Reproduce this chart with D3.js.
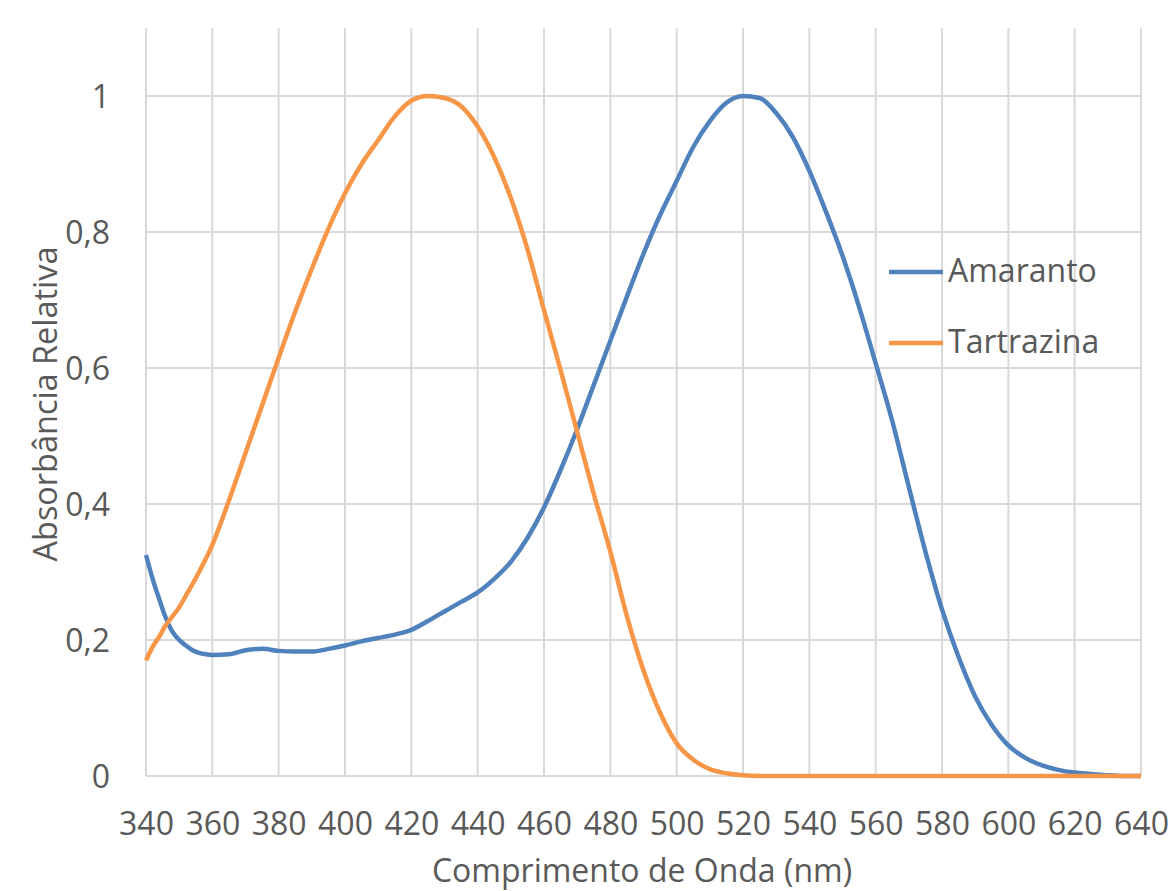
<!DOCTYPE html>
<html lang="pt">
<head>
<meta charset="UTF-8">
<script src="https://d3js.org/d3.v7.min.js"></script>
<title>Absorbância</title>
<style>
  body { margin: 0; background: #fff; }
  text { font-family: "Open Sans", sans-serif; fill: #595959; }
  .grid line { stroke: #d9d9d9; stroke-width: 2; }
  .axis path, .axis line { display: none; }
</style>
</head>
<body>
<div id="chart"></div>
<script>
// comprimentos de onda (nm)
var wavelengths = [340, 342, 344, 346, 348, 350, 352, 354, 356, 358, 360,
  365, 370, 375, 380, 385, 390, 395, 400, 405, 410, 415, 420, 425, 430, 435,
  440, 445, 450, 455, 460, 465, 470, 475, 480, 485, 490, 495, 500, 505, 510,
  515, 520, 525, 530, 535, 540, 545, 550, 555, 560, 565, 570, 575, 580, 585,
  590, 595, 600, 605, 610, 615, 620, 625, 630, 635, 640];

var amaranto = [0.325, 0.29, 0.26, 0.232, 0.212, 0.2, 0.192, 0.185, 0.181, 0.179, 0.178,
  0.179, 0.185, 0.187, 0.184, 0.183, 0.183, 0.187, 0.192, 0.198, 0.203, 0.208, 0.215, 0.228, 0.242, 0.256,
  0.27, 0.29, 0.315, 0.35, 0.395, 0.45, 0.51, 0.575, 0.64, 0.705, 0.768, 0.825, 0.875, 0.925, 0.963,
  0.99, 1.0, 0.997, 0.975, 0.94, 0.89, 0.83, 0.765, 0.69, 0.607, 0.522, 0.425, 0.33, 0.245, 0.175,
  0.117, 0.075, 0.045, 0.027, 0.016, 0.009, 0.005, 0.003, 0.001, 0, 0];

var tartrazina = [0.17, 0.19, 0.205, 0.222, 0.235, 0.248, 0.265, 0.282, 0.3, 0.319, 0.34,
  0.405, 0.475, 0.545, 0.615, 0.683, 0.746, 0.805, 0.857, 0.9, 0.935, 0.97, 0.993, 1.0, 0.997, 0.985,
  0.955, 0.91, 0.85, 0.775, 0.685, 0.597, 0.506, 0.415, 0.33, 0.235, 0.155, 0.093, 0.048, 0.024, 0.01,
  0.004, 0.001, 0, 0, 0, 0, 0, 0, 0, 0, 0, 0, 0, 0, 0,
  0, 0, 0, 0, 0, 0, 0, 0, 0, 0, 0];

var seriesNames = ["Amaranto", "Tartrazina"];
var seriesColors = ["#4f81bd", "#f79646"];
var xTicks = [340, 360, 380, 400, 420, 440, 460, 480, 500, 520, 540, 560, 580, 600, 620, 640];
var yTicks = [0, 0.2, 0.4, 0.6, 0.8, 1];
var yTickLabels = ["0", "0,2", "0,4", "0,6", "0,8", "1"];

var width = 1171, height = 891;
var margin = { left: 146, right: 30, top: 28, bottom: 115 };

var svg = d3.select("#chart").append("svg")
  .attr("width", width)
  .attr("height", height);

var x = d3.scaleLinear().domain([340, 640]).range([margin.left, width - margin.right]);
var y = d3.scaleLinear().domain([0, 1.1]).range([height - margin.bottom, margin.top]);

// grelha
svg.append("g").attr("class", "grid")
  .selectAll("line").data(xTicks).enter().append("line")
    .attr("x1", function(d) { return x(d); })
    .attr("x2", function(d) { return x(d); })
    .attr("y1", y(1.1))
    .attr("y2", y(0));

svg.append("g").attr("class", "grid")
  .selectAll("line").data(yTicks).enter().append("line")
    .attr("x1", x(340))
    .attr("x2", x(640))
    .attr("y1", function(d) { return y(d); })
    .attr("y2", function(d) { return y(d); });

// eixos
var xAxis = svg.append("g").attr("class", "axis")
  .attr("transform", "translate(0," + y(0) + ")")
  .call(d3.axisBottom(x).tickValues(xTicks).tickFormat(d3.format("d")));
xAxis.selectAll("text")
  .attr("y", 59).attr("dy", null)
  .style("font-size", "32px");

var yAxis = svg.append("g").attr("class", "axis")
  .attr("transform", "translate(" + x(340) + ",0)")
  .call(d3.axisLeft(y).tickValues(yTicks).tickFormat(function(d, i) { return yTickLabels[i]; }));
yAxis.selectAll("text")
  .attr("x", -36).attr("dy", "0.36em")
  .style("font-size", "32px");

// linhas
var line = d3.line()
  .x(function(d) { return x(d[0]); })
  .y(function(d) { return y(d[1]); })
  .curve(d3.curveMonotoneX);

[amaranto, tartrazina].forEach(function(vals, i) {
  svg.append("path")
    .datum(wavelengths.map(function(w, j) { return [w, vals[j]]; }))
    .attr("fill", "none")
    .attr("stroke", seriesColors[i])
    .attr("stroke-width", 4.5)
    .attr("stroke-linejoin", "round")
    .attr("d", line);
});

// títulos
svg.append("text")
  .attr("x", 642).attr("y", 882)
  .attr("text-anchor", "middle")
  .style("font-size", "32px")
  .text("Comprimento de Onda (nm)");

svg.append("text")
  .attr("transform", "translate(57,404) rotate(-90)")
  .attr("text-anchor", "middle")
  .attr("textLength", 315)
  .attr("lengthAdjust", "spacingAndGlyphs")
  .style("font-size", "32px")
  .text("Absorbância Relativa");

// legenda
var legend = svg.selectAll(".legend")
  .data(seriesNames).enter().append("g")
    .attr("class", "legend")
    .attr("transform", function(d, i) { return "translate(889," + (272 + i * 71) + ")"; });

legend.append("line")
  .attr("x1", 0).attr("x2", 54)
  .attr("stroke", function(d, i) { return seriesColors[i]; })
  .attr("stroke-width", 4.5);

legend.append("text")
  .attr("x", 59).attr("y", 10)
  .style("font-size", "32px")
  .text(function(d) { return d; });
</script>
</body>
</html>
